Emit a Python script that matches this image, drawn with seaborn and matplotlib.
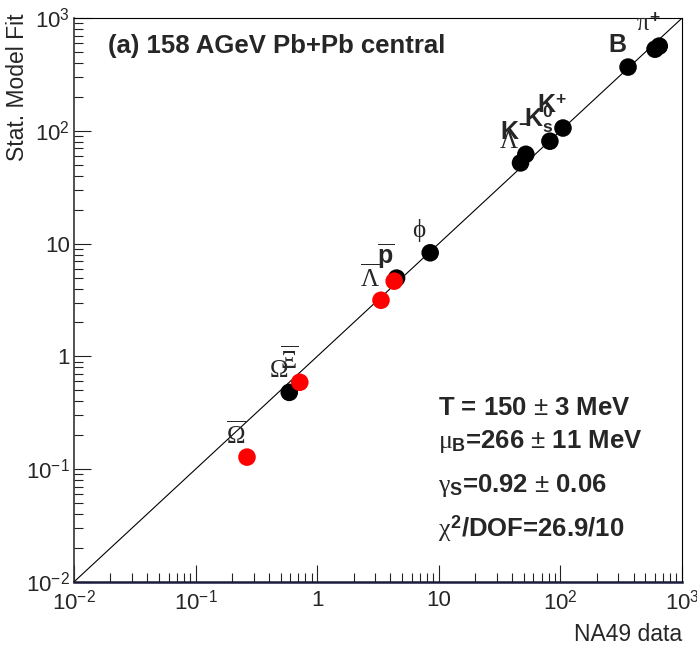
import numpy as np
import pandas as pd
import seaborn as sns
import matplotlib.pyplot as plt
from matplotlib.ticker import FixedLocator, FixedFormatter, LogLocator, NullFormatter

particles = ["pi+", "pi-", "B", "K+", "K0s", "K-", "Lambda", "phi", "pbar", "Omega",
             "pbar_r", "Lambdabar", "Xibar", "Omegabar"]
na49_data = [650, 600, 360, 105, 82, 52, 47, 8.5, 4.5, 0.59, 4.3, 3.35, 0.72, 0.265]
model_fit = [565, 530, 368, 106, 81, 62, 52, 8.3, 4.95, 0.48, 4.65, 3.15, 0.59, 0.128]
in_fit = ["yes", "yes", "yes", "yes", "yes", "yes", "yes", "yes", "yes", "yes",
          "no", "no", "no", "no"]
labels = [r"$\pi^{\mathbf{+}}$", "", "B", r"K$^{\mathbf{+}}$",
          r"K$^{\mathbf{0}}_{\mathbf{s}}$", r"K$^{\mathbf{-}}$", r"$\mathcal{\Lambda}$",
          r"$\phi$", r"$\overline{\mathbf{p}}$", r"$\mathcal{\Omega}$", "",
          r"$\overline{\mathcal{\Lambda}}$", r"$\overline{\mathcal{\Xi}}$",
          r"$\overline{\mathcal{\Omega}}$"]

axis_range = [1e-2, 1e3]
tick_values = [1e-2, 1e-1, 1, 10, 1e2, 1e3]
tick_labels = [r"$10^{-2}$", r"$10^{-1}$", "1", "10", r"$10^{2}$", r"$10^{3}$"]

fit_lines = [
    r"T = 150 $\pm$ 3 MeV",
    r"$\mu_{\mathbf{B}}$=266 $\pm$ 11 MeV",
    r"$\gamma_{\mathbf{S}}$=0.92 $\pm$ 0.06",
    r"$\chi^{\mathbf{2}}$/DOF=26.9/10",
]

df = pd.DataFrame({"particle": particles, "na49": na49_data,
                   "model": model_fit, "fit": in_fit, "label": labels})

sns.set_theme(style="white")
plt.rcParams["font.family"] = ["Liberation Sans", "DejaVu Sans"]
plt.rcParams["mathtext.fontset"] = "custom"
plt.rcParams["mathtext.rm"] = "Liberation Sans"
plt.rcParams["mathtext.sf"] = "Liberation Sans"
plt.rcParams["mathtext.it"] = "Liberation Serif"
plt.rcParams["mathtext.bf"] = "Liberation Sans:bold"
plt.rcParams["mathtext.cal"] = "Liberation Serif"

fig = plt.figure(figsize=(6.97, 6.47), dpi=100)
ax = fig.add_axes([0.106, 0.1005, 0.8725, 0.8715])

ax.plot(axis_range, axis_range, color="black", lw=0.8, zorder=1)
sns.scatterplot(data=df, x="na49", y="model", hue="fit",
                palette={"yes": "black", "no": "red"}, s=160, linewidth=0,
                legend=False, ax=ax, zorder=3)

for _, row in df.iterrows():
    if row["label"]:
        ax.annotate(row["label"], (row["na49"], row["model"]), xytext=(-8, 16),
                    textcoords="offset points", ha="center", va="center",
                    fontsize=18, fontweight="bold", zorder=4)

ax.set_xscale("log")
ax.set_yscale("log")
ax.set_xlim(axis_range)
ax.set_ylim(axis_range)

for axis in (ax.xaxis, ax.yaxis):
    axis.set_major_locator(FixedLocator(tick_values))
    axis.set_major_formatter(FixedFormatter(tick_labels))
    axis.set_minor_locator(LogLocator(base=10, subs=np.arange(2, 10), numticks=20))
    axis.set_minor_formatter(NullFormatter())

ax.tick_params(which="both", direction="in", top=False, right=False,
               bottom=True, left=True, color="#222222", labelsize=16)
ax.tick_params(which="major", length=12, width=0.8)
ax.tick_params(which="minor", length=6.5, width=0.8)
ax.tick_params(axis="x", pad=6)
ax.tick_params(axis="y", pad=3)

for side in ["top", "right"]:
    ax.spines[side].set_linewidth(0.8)
    ax.spines[side].set_color("black")
ax.spines["left"].set_linewidth(1.2)
ax.spines["left"].set_color("#333333")
ax.spines["bottom"].set_linewidth(1.8)
ax.spines["bottom"].set_color("#1a1a3a")

ax.set_xlabel("NA49 data", fontsize=16.5, loc="right", labelpad=6)
ax.set_ylabel("Stat. Model Fit", fontsize=16.5, loc="top")
ax.yaxis.set_label_coords(-0.074, 1.008)

ax.text(0.056, 0.938, "(a) 158 AGeV Pb+Pb central", transform=ax.transAxes,
        fontsize=18.5, fontweight="bold", ha="left", va="baseline")

for line, ypos in zip(fit_lines, [0.296, 0.2376, 0.1596, 0.0798]):
    ax.text(0.599, ypos, line, transform=ax.transAxes, fontsize=18.5,
            fontweight="bold", ha="left", va="baseline")

fig.savefig("out.png", dpi=100)
